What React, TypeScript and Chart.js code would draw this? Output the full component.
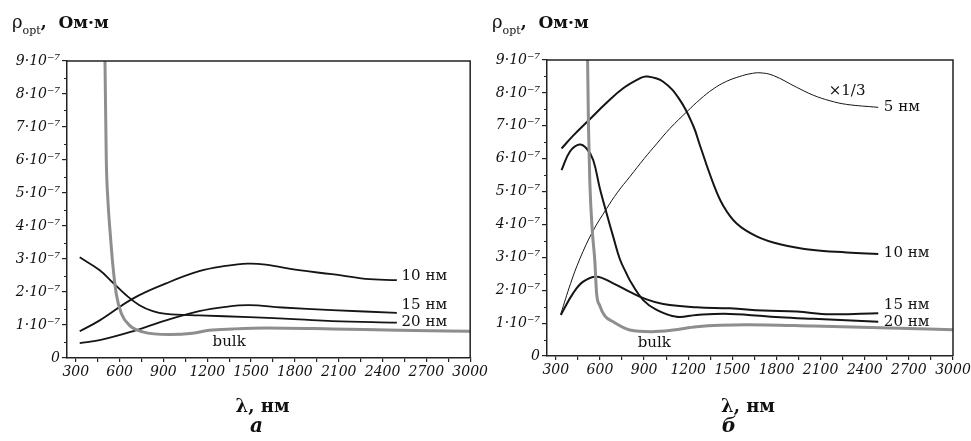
import React, { useEffect, useRef } from 'react';
import { Chart, registerables } from 'chart.js';

Chart.register(...registerables);

const SERIF = "'DejaVu Serif', serif";

// ---------- axis ticks ----------
const X_MIN = 240;
const X_MAX = 3000;
const xTickValues = [300, 450, 600, 750, 900, 1050, 1200, 1350, 1500, 1650, 1800, 1950, 2100, 2250, 2400, 2550, 2700, 2850, 3000];
const xMajorStep = 300;
const yTickValues = [0, 0.5, 1, 1.5, 2, 2.5, 3, 3.5, 4, 4.5, 5, 5.5, 6, 6.5, 7, 7.5, 8, 8.5, 9];
const yMinorValues = [0.5, 1.5, 2.5, 3.5, 4.5, 5.5, 6.5, 7.5, 8.5];

// ---------- panel а (values in units of 10^-7 Ом·м, λ in nm) ----------
const a10Lam = [327, 464, 691, 918, 1145, 1327, 1475, 1600, 1827, 2054, 2282, 2498];
const a10Rho = [0.81, 1.14, 1.8, 2.26, 2.63, 2.79, 2.86, 2.83, 2.66, 2.54, 2.4, 2.36];

const a15Lam = [327, 464, 691, 918, 1145, 1327, 1486, 1713, 2054, 2498];
const a15Rho = [0.45, 0.54, 0.81, 1.14, 1.42, 1.55, 1.6, 1.53, 1.45, 1.37];

const a20Lam = [327, 464, 555, 646, 736, 827, 918, 1145, 1486, 1827, 2054, 2498];
const a20Rho = [3.05, 2.66, 2.28, 1.9, 1.6, 1.42, 1.34, 1.29, 1.24, 1.17, 1.12, 1.07];

const aBulkLam = [494, 500, 509, 520, 536, 555, 577, 612, 668, 759, 941, 1100, 1214, 1373, 1600, 2054, 2509, 3000];
const aBulkRho = [10.5, 9.0, 6.0, 4.78, 3.77, 2.76, 1.95, 1.35, 0.99, 0.79, 0.71, 0.75, 0.84, 0.88, 0.91, 0.88, 0.84, 0.81];

// ---------- panel б ----------
const b5Lam = [334, 400, 463, 550, 645, 720, 803, 900, 985, 1076, 1189, 1280, 1370, 1460, 1551, 1620, 1688, 1778, 1937, 2050, 2164, 2277, 2492];
const b5Rho = [1.28, 2.2, 2.95, 3.78, 4.48, 4.98, 5.45, 6.0, 6.45, 6.92, 7.42, 7.8, 8.12, 8.35, 8.5, 8.58, 8.61, 8.53, 8.17, 7.93, 7.76, 7.65, 7.56];

const b10Lam = [339, 418, 531, 645, 758, 871, 917, 1030, 1144, 1234, 1280, 1370, 1438, 1529, 1665, 1824, 2050, 2277, 2492];
const b10Rho = [6.31, 6.7, 7.2, 7.7, 8.14, 8.44, 8.5, 8.34, 7.78, 7.0, 6.4, 5.25, 4.57, 4.03, 3.64, 3.4, 3.22, 3.15, 3.1];

const b15Lam = [334, 418, 486, 577, 690, 803, 917, 1030, 1257, 1484, 1710, 1937, 2164, 2492];
const b15Rho = [1.25, 1.91, 2.26, 2.41, 2.21, 1.95, 1.72, 1.58, 1.48, 1.45, 1.38, 1.35, 1.27, 1.3];

const b20Lam = [339, 395, 459, 509, 554, 599, 645, 690, 735, 781, 815, 894, 985, 1121, 1257, 1484, 1824, 2050, 2492];
const b20Rho = [5.65, 6.21, 6.43, 6.31, 5.96, 5.1, 4.34, 3.63, 2.95, 2.5, 2.21, 1.7, 1.4, 1.19, 1.25, 1.28, 1.18, 1.13, 1.04];

const bBulkLam = [508, 516, 522, 531, 548, 565, 577, 599, 633, 690, 803, 951, 1098, 1257, 1597, 2050, 2500, 3000];
const bBulkRho = [10.5, 9.0, 7.0, 5.3, 3.8, 2.9, 1.91, 1.53, 1.22, 1.04, 0.79, 0.74, 0.79, 0.89, 0.95, 0.91, 0.86, 0.8];

// ---------- text ----------
const yTitleMain = 'ρ';
const yTitleSub = 'opt';
const yTitleUnit = ',  Ом·м';
const xTitle = 'λ, нм';

type Series = { lam: number[]; rho: number[]; color: string; width: number; smooth: 'bezier' | 'monotone' };
type Label = { text: string; lam: number; rho: number; align: CanvasTextAlign; size: number };
type Panel = {
  caption: string;
  series: Series[];
  labels: Label[];
  canvasLeft: number;
  canvasWidth: number;
  padTop: number;
  padRight: number;
  yAxisWidth: number;
  xAxisHeight: number;
  titleX: number;
  captionDx: number;
  xTitleDx: number;
};

const BLACK = '#151515';
const GRAY = '#8e8e8e';

const panelA: Panel = {
  caption: 'а',
  series: [
    { lam: aBulkLam, rho: aBulkRho, color: GRAY, width: 3, smooth: 'monotone' },
    { lam: a10Lam, rho: a10Rho, color: BLACK, width: 1.8, smooth: 'bezier' },
    { lam: a15Lam, rho: a15Rho, color: BLACK, width: 1.8, smooth: 'bezier' },
    { lam: a20Lam, rho: a20Rho, color: BLACK, width: 1.8, smooth: 'bezier' },
  ],
  labels: [
    { text: '10 нм', lam: 2530, rho: 2.48, align: 'left', size: 15 },
    { text: '15 нм', lam: 2530, rho: 1.6, align: 'left', size: 15 },
    { text: '20 нм', lam: 2530, rho: 1.09, align: 'left', size: 15 },
    { text: 'bulk', lam: 1350, rho: 0.49, align: 'center', size: 15 },
  ],
  canvasLeft: 0,
  canvasWidth: 490,
  padTop: 61,
  padRight: 18,
  yAxisWidth: 67,
  xAxisHeight: 83,
  titleX: 12,
  captionDx: -12,
  xTitleDx: -6,
};

const panelB: Panel = {
  caption: 'б',
  series: [
    { lam: bBulkLam, rho: bBulkRho, color: GRAY, width: 3, smooth: 'monotone' },
    { lam: b5Lam, rho: b5Rho, color: BLACK, width: 1, smooth: 'bezier' },
    { lam: b10Lam, rho: b10Rho, color: BLACK, width: 2, smooth: 'bezier' },
    { lam: b15Lam, rho: b15Rho, color: BLACK, width: 2, smooth: 'bezier' },
    { lam: b20Lam, rho: b20Rho, color: BLACK, width: 2, smooth: 'bezier' },
  ],
  labels: [
    { text: '×1/3', lam: 2280, rho: 8.05, align: 'center', size: 15 },
    { text: '5 нм', lam: 2530, rho: 7.57, align: 'left', size: 15 },
    { text: '10 нм', lam: 2530, rho: 3.12, align: 'left', size: 15 },
    { text: '15 нм', lam: 2530, rho: 1.55, align: 'left', size: 15 },
    { text: '20 нм', lam: 2530, rho: 1.04, align: 'left', size: 15 },
    { text: 'bulk', lam: 969, rho: 0.39, align: 'center', size: 15 },
  ],
  canvasLeft: 478,
  canvasWidth: 500,
  padTop: 60,
  padRight: 25,
  yAxisWidth: 69,
  xAxisHeight: 85,
  titleX: 14,
  captionDx: -21,
  xTitleDx: -2,
};

function decorPlugin(panel: Panel) {
  return {
    id: 'decor',
    afterDraw(chart: any) {
      const { ctx, chartArea: a, scales } = chart;
      const xs = scales.x;
      const ys = scales.y;
      ctx.save();
      // top & right frame
      ctx.strokeStyle = '#222';
      ctx.lineWidth = 1.5;
      ctx.beginPath();
      ctx.moveTo(a.left, a.top);
      ctx.lineTo(a.right, a.top);
      ctx.lineTo(a.right, a.bottom);
      ctx.stroke();
      // minor y ticks
      ctx.lineWidth = 1.2;
      ctx.beginPath();
      for (const v of yMinorValues) {
        const py = Math.round(ys.getPixelForValue(v)) + 0.5;
        ctx.moveTo(a.left - 3, py);
        ctx.lineTo(a.left, py);
      }
      ctx.stroke();

      // curve labels
      ctx.fillStyle = '#111';
      ctx.textBaseline = 'middle';
      for (const l of panel.labels) {
        ctx.font = `${l.size}px ${SERIF}`;
        ctx.textAlign = l.align;
        ctx.fillText(l.text, xs.getPixelForValue(l.lam), ys.getPixelForValue(l.rho));
      }

      // y title
      ctx.textAlign = 'left';
      ctx.textBaseline = 'alphabetic';
      let tx = panel.titleX;
      ctx.font = `18px ${SERIF}`;
      ctx.fillText(yTitleMain, tx, 28);
      tx += ctx.measureText(yTitleMain).width;
      ctx.font = `11px ${SERIF}`;
      ctx.fillText(yTitleSub, tx, 34);
      tx += ctx.measureText(yTitleSub).width;
      ctx.font = `bold 17px ${SERIF}`;
      ctx.fillText(yTitleUnit, tx, 28);

      // x title and caption
      const cx = (a.left + a.right) / 2;
      ctx.textAlign = 'center';
      ctx.textBaseline = 'middle';
      ctx.font = `bold 18px ${SERIF}`;
      ctx.fillText(xTitle, cx + panel.xTitleDx, 407);
      ctx.font = `italic bold 20px ${SERIF}`;
      ctx.fillText(panel.caption, cx + panel.captionDx, 427);
      ctx.restore();
    },
  };
}

function makeChart(canvas: HTMLCanvasElement, panel: Panel) {
  const tickFont = { family: SERIF, size: 14, style: 'italic' as const };
  return new Chart(canvas, {
    type: 'line',
    data: {
      datasets: panel.series.map((s) => ({
        data: s.lam.map((x, i) => ({ x, y: s.rho[i] })),
        borderColor: s.color,
        borderWidth: s.width,
        pointRadius: 0,
        fill: false,
        tension: 0.4,
        cubicInterpolationMode: s.smooth === 'monotone' ? ('monotone' as const) : ('default' as const),
      })),
    },
    options: {
      animation: false,
      responsive: false,
      events: [],
      layout: { padding: { top: panel.padTop, right: panel.padRight, left: 0, bottom: 0 } },
      plugins: { legend: { display: false }, tooltip: { enabled: false } },
      scales: {
        x: {
          type: 'linear',
          min: X_MIN,
          max: X_MAX,
          afterBuildTicks: (s: any) => {
            s.ticks = xTickValues.map((value) => ({ value }));
          },
          afterFit: (s: any) => {
            s.height = panel.xAxisHeight;
          },
          ticks: {
            autoSkip: false,
            maxRotation: 0,
            padding: 2,
            color: '#111',
            font: tickFont,
            callback: (v: any) => (Number(v) % xMajorStep === 0 ? String(v) : ''),
          },
          grid: { drawOnChartArea: false, tickLength: 4, tickColor: '#222', lineWidth: 1.2 },
          border: { display: true, color: '#222', width: 1.5 },
        },
        y: {
          type: 'linear',
          min: 0,
          max: 9,
          afterBuildTicks: (s: any) => {
            s.ticks = yTickValues.map((value) => ({ value }));
          },
          afterFit: (s: any) => {
            s.width = panel.yAxisWidth;
          },
          ticks: {
            autoSkip: false,
            padding: 2,
            color: '#111',
            font: tickFont,
            callback: (v: any) => {
              const n = Number(v);
              if (n === 0) return '0';
              return Number.isInteger(n) ? `${n}·10⁻⁷` : '';
            },
          },
          grid: {
            drawOnChartArea: false,
            tickLength: 5,
            lineWidth: 1.2,
            tickColor: (c: any) => (Number.isInteger(c.tick?.value) ? '#222' : 'rgba(0,0,0,0)'),
          },
          border: { display: true, color: '#222', width: 1.5 },
        },
      },
    },
    plugins: [decorPlugin(panel)],
  });
}

function PanelChart({ panel }: { panel: Panel }) {
  const ref = useRef<HTMLCanvasElement | null>(null);
  useEffect(() => {
    if (!ref.current) return;
    const chart = makeChart(ref.current, panel);
    return () => chart.destroy();
  }, [panel]);
  return (
    <canvas
      ref={ref}
      width={panel.canvasWidth}
      height={441}
      style={{ position: 'absolute', left: panel.canvasLeft, top: 0, width: panel.canvasWidth, height: 441 }}
    />
  );
}

export default function App() {
  return (
    <div
      style={{
        position: 'fixed',
        left: 0,
        top: 0,
        width: 971,
        height: 441,
        overflow: 'hidden',
        background: '#fff',
      }}
    >
      <PanelChart panel={panelA} />
      <PanelChart panel={panelB} />
    </div>
  );
}
